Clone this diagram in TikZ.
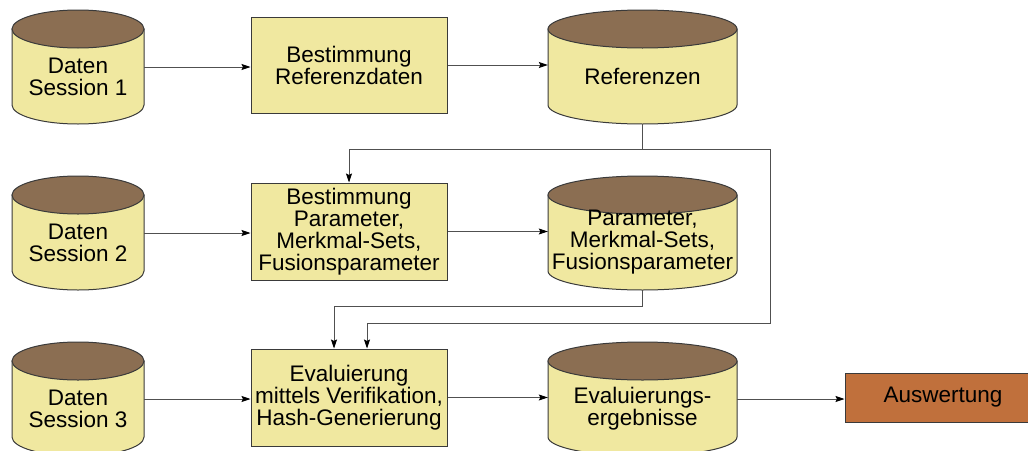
\documentclass[tikz,border=0pt]{standalone}
\usepackage{fontspec}
\setmainfont{Liberation Sans}
\usetikzlibrary{arrows.meta,calc}

\definecolor{dbbody}{HTML}{F0E8A0}
\definecolor{dbtop}{HTML}{8B6E52}
\definecolor{outline}{HTML}{3A3A3A}
\definecolor{wire}{HTML}{505050}
\definecolor{resultfill}{HTML}{C0703C}

\tikzset{
  lbl/.style={font=\fontsize{22.5}{22}\selectfont, align=center, inner sep=0pt},
  procbox/.style={lbl, draw=outline, fill=dbbody, line width=1pt,
                  minimum width=196pt, minimum height=96pt},
  dbframe/.style={draw=none, inner sep=0pt},
  dbshape/.style={fill=dbbody, draw=outline, line width=1pt},
  dbcap/.style={fill=dbtop, draw=outline, line width=1pt},
  arr/.style={draw=wire, line width=0.9pt,
              -{Stealth[length=9pt,width=6pt,inset=1.5pt,color=black]}},
}

% data store: name, centre x, top y, bottom y, half width, label
\newcommand\dbstore[6]{%
  \node[dbframe, minimum width={2*#5pt}, minimum height={(#4-#3)*1pt}]
    (#1) at (#2,{(#3+#4)/2}) {};
  \path[dbshape] ({#2-#5},{#3+19}) -- ({#2-#5},{#4-19})
    arc[start angle=180, end angle=360, x radius=#5pt, y radius=19pt]
    -- ({#2+#5},{#3+19}) -- cycle;
  \path[dbcap] (#2,{#3+19}) ellipse[x radius=#5pt, y radius=19pt];
  \node[lbl] (#1-t) at (#2,{(#3+19+#4)/2}) {#6};
}

\begin{document}
\begin{tikzpicture}[x=1pt, y=-1pt]
  \useasboundingbox (0,0) rectangle (1028,450);
  \clip (0,0) rectangle (1028,450);

  % row 1: reference data
  \dbstore{src1}{78}{10}{124}{66}{Daten\\Session 1}
  \node[procbox] (b1) at (349,65) {Bestimmung\\Referenzdaten};
  \dbstore{refs}{642.5}{10}{124}{94.5}{Referenzen}

  % row 2: parameter selection
  \dbstore{src2}{78}{176}{290}{66}{Daten\\Session 2}
  \node[procbox, minimum height=97pt] (b2) at (349,231.5)
    {Bestimmung\\Parameter,\\Merkmal-Sets,\\Fusionsparameter};
  \dbstore{params}{642.5}{176}{290}{94.5}{Parameter,\\Merkmal-Sets,\\Fusionsparameter}

  % row 3: evaluation
  \dbstore{src3}{78}{342}{456}{66}{Daten\\Session 3}
  \node[procbox, minimum height=97pt] (b3) at (349,397.5)
    {Evaluierung\\mittels Verifikation,\\Hash-Generierung};
  \dbstore{evals}{642.5}{342}{456}{94.5}{Evaluierungs-\\ergebnisse}
  \node[lbl, draw=outline, fill=resultfill, line width=1pt,
        minimum width=196pt, minimum height=49pt] (aus) at (943,397.5) {Auswertung};

  % horizontal flow
  \draw[arr] (src1.east) -- (src1.east -| b1.west);
  \draw[arr] (b1.east) -- (b1.east -| refs.west);
  \draw[arr] (src2.east) -- (src2.east -| b2.west);
  \draw[arr] (b2.east) -- (b2.east -| params.west);
  \draw[arr] (src3.east) -- (src3.east -| b3.west);
  \draw[arr] (b3.east) -- (b3.east -| evals.west);
  \draw[arr] (evals.east) -- (evals.east -| aus.west);

  % feedback lines
  \coordinate (loopcorner) at (770,323);
  \draw[arr] (refs.south) -- ++(0,25) -| (b2.north);
  \draw[arr] (refs.south) -- ++(0,25) -| (loopcorner) -| ([xshift=18pt]b3.north);
  \draw[arr] (params.south) -- ++(0,16) -| ([xshift=-15pt]b3.north);
\end{tikzpicture}
\end{document}
